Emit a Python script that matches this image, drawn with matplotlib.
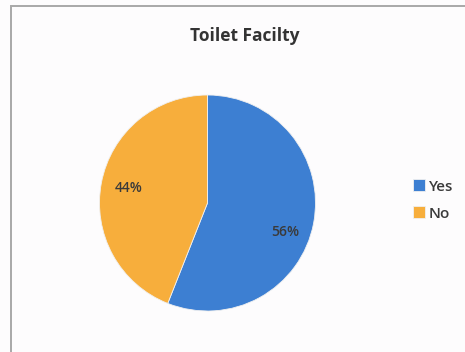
import matplotlib
matplotlib.use("Agg")
import matplotlib.pyplot as plt
from matplotlib.patches import Rectangle

categories = ["Yes", "No"]
values = [56, 44]
colors = ["#3d7fd2", "#f7ae3c"]
title = "Toilet Facilty"

W, H = 465, 352
fig = plt.figure(figsize=(W / 100, H / 100), dpi=100)
fig.patch.set_facecolor("#fdfcfd")

# outer border (chart area frame)
fig.add_artist(Rectangle((11 / W, -0.05), 1.2, 1 - 6 / H + 0.05,
                         transform=fig.transFigure, fill=False,
                         edgecolor="#a8a8a8", linewidth=1.4))

cx, cy, r = 207.5, 203, 108
ax = fig.add_axes([(cx - r) / W, 1 - (cy + r) / H, 2 * r / W, 2 * r / H])
wedges, texts, autotexts = ax.pie(
    values, colors=colors, startangle=90, counterclock=False,
    autopct=lambda p: f"{p:.0f}%", pctdistance=0.74,
    wedgeprops=dict(linewidth=0.6, edgecolor="#f0f0f0"),
    textprops=dict(fontsize=10, color="#3a3a3a", family="Open Sans",
                   fontweight="semibold"))
ax.set_xlim(-1, 1)
ax.set_ylim(-1, 1)
ax.set_aspect("auto")
autotexts[0].set_position((0.72, -0.27))

fig.text(245 / W, 1 - 36 / H, title, ha="center", va="center",
         fontsize=12.5, fontweight="bold", color="#333333", family="Open Sans")

leg = fig.legend(wedges, categories, loc="center left",
                 bbox_to_anchor=(399 / W, 1 - 200 / H), frameon=False,
                 handlelength=0.8, handleheight=0.8,
                 handletextpad=0.25, labelspacing=0.85,
                 prop=dict(family="Open Sans", size=11, weight="semibold"))
for t in leg.get_texts():
    t.set_color("#3a3a3a")

fig.savefig("out.png", dpi=100, facecolor=fig.get_facecolor())
